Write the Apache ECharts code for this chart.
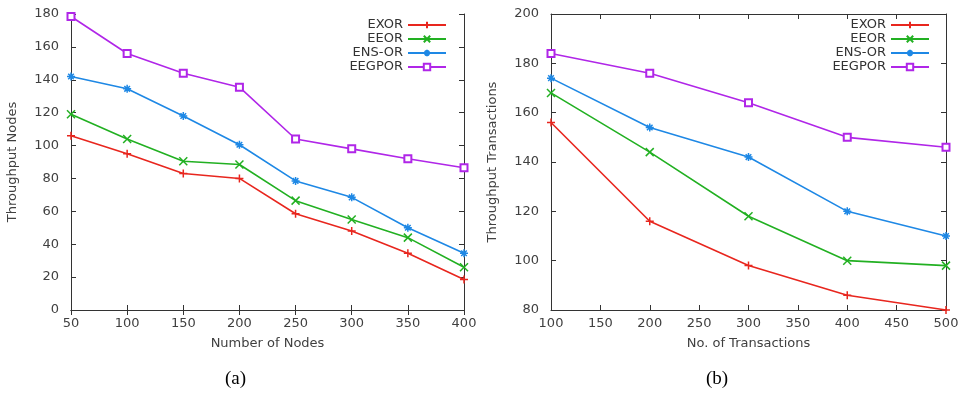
<!DOCTYPE html>
<html><head><meta charset="utf-8">
<script src="https://cdn.jsdelivr.net/npm/echarts@6/dist/echarts.min.js"></script>
<style>html,body{margin:0;padding:0;background:#fff}#c{width:963px;height:397px}</style>
</head><body><div id="c"></div>
<script>
const seriesNames = ['EXOR', 'EEOR', 'ENS-OR', 'EEGPOR'];
const nodes = [50, 100, 150, 200, 250, 300, 350, 400];
const exorA = [106, 95, 83, 80, 58.5, 48, 34.5, 18.5];
const eeorA = [119, 104, 90.5, 88.5, 66.5, 55, 44, 26];
const ensorA = [142, 134.5, 118, 100.5, 78.5, 68.5, 50, 34.5];
const eegporA = [178.5, 156, 144, 135.5, 104, 98, 92, 86.5];
const trans = [100, 200, 300, 400, 500];
const exorB = [156, 116, 98, 86, 80];
const eeorB = [168, 144, 118, 100, 98];
const ensorB = [174, 154, 142, 120, 110];
const eegporB = [184, 176, 164, 150, 146];
const panelLabels = ['(a)', '(b)'];
const xNames = ['Number of Nodes', 'No. of Transactions'];
const yNames = ['Throughput Nodes', 'Throughput Transactions'];

const colors = ['#e8261e', '#22b022', '#1e88e5', '#b026e8'];
const symbols = [
  'path://M0,5L10,5M5,0L5,10',
  'path://M0,0L10,10M0,10L10,0',
  'path://M0,5L10,5M5,0L5,10M1.5,1.5L8.5,8.5M1.5,8.5L8.5,1.5',
  'emptyRect'
];
const font = 'DejaVu Sans';
const txt = '#404040';

function pairs(xs, ys) { return xs.map((x, i) => [x, ys[i]]); }

function mkX(grid, min, max, name, main) {
  return {
    type: 'value', gridIndex: grid, min: min, max: max, interval: 50,
    position: main ? 'bottom' : 'top',
    name: main ? name : '', nameLocation: 'middle', nameGap: 27,
    nameTextStyle: { color: txt, fontFamily: font, fontSize: 13 },
    axisLine: { show: true, lineStyle: { color: '#333', width: 1 } },
    axisTick: { show: true, inside: true, length: 5, lineStyle: { color: '#333' } },
    axisLabel: { show: main, color: txt, fontFamily: font, fontSize: 13, margin: 7 },
    splitLine: { show: false }
  };
}
function mkY(grid, min, max, name, main) {
  return {
    type: 'value', gridIndex: grid, min: min, max: max, interval: 20,
    position: main ? 'left' : 'right',
    name: main ? name : '', nameLocation: 'middle', nameGap: 52,
    nameTextStyle: { color: txt, fontFamily: font, fontSize: 13 },
    axisLine: { show: true, lineStyle: { color: '#333', width: 1 } },
    axisTick: { show: true, inside: true, length: 5, lineStyle: { color: '#333' } },
    axisLabel: { show: main, color: txt, fontFamily: font, fontSize: 13, margin: 12 },
    splitLine: { show: false }
  };
}
function mkSeries(i, xi, yi, data) {
  return {
    type: 'line', name: seriesNames[i], xAxisIndex: xi, yAxisIndex: yi,
    data: data, symbol: symbols[i], symbolSize: i === 3 ? 7 : 8,
    lineStyle: { color: colors[i], width: 1.6 },
    itemStyle: { color: colors[i], borderColor: colors[i], borderWidth: 1.5 },
    emphasis: { disabled: true }, animation: false
  };
}
const aSets = [exorA, eeorA, ensorA, eegporA];
const bSets = [exorB, eeorB, ensorB, eegporB];
const series = [];
aSets.forEach((d, i) => series.push(mkSeries(i, 0, 0, pairs(nodes, d))));
bSets.forEach((d, i) => series.push(mkSeries(i, 2, 2, pairs(trans, d))));

function mkLegend(right) {
  return {
    right: right, top: 13, orient: 'vertical', align: 'right',
    itemWidth: 38, itemHeight: 8, itemGap: 0,
    textStyle: { color: '#333', fontFamily: font, fontSize: 13, lineHeight: 14, height: 14 },
    data: seriesNames, selectedMode: false
  };
}

const chart = echarts.init(document.getElementById('c'), null, { renderer: 'canvas' });
chart.setOption({
  backgroundColor: '#fff',
  animation: false,
  grid: [
    { left: 71, right: 499, top: 14, bottom: 87 },
    { left: 551, right: 17, top: 14, bottom: 87 }
  ],
  xAxis: [
    mkX(0, 50, 400, xNames[0], true), mkX(0, 50, 400, '', false),
    mkX(1, 100, 500, xNames[1], true), mkX(1, 100, 500, '', false)
  ],
  yAxis: [
    mkY(0, 0, 180, yNames[0], true), mkY(0, 0, 180, '', false),
    mkY(1, 80, 200, yNames[1], true), mkY(1, 80, 200, '', false)
  ],
  legend: [mkLegend(963 - 452), mkLegend(963 - 935)],
  series: series,
  graphic: [
    { type: 'text', left: 225, top: 370, style: { text: panelLabels[0], font: '19px "Liberation Serif"', fill: '#000' } },
    { type: 'text', left: 706, top: 370, style: { text: panelLabels[1], font: '19px "Liberation Serif"', fill: '#000' } }
  ]
});
</script></body></html>
